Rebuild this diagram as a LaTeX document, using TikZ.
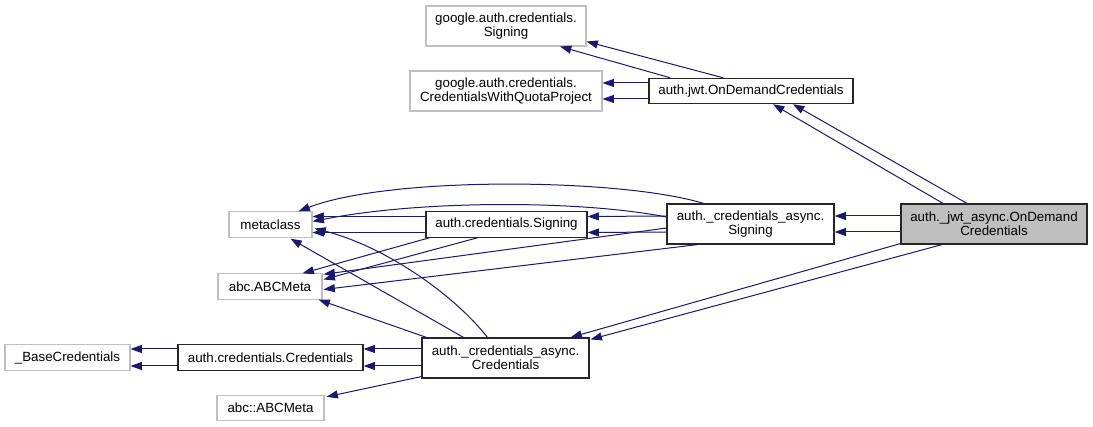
\documentclass[tikz,border=0pt]{standalone}
\usepackage{fontspec}
\setmainfont{Liberation Sans}
\usetikzlibrary{arrows.meta,calc}
\definecolor{edgeblue}{HTML}{191970}

\begin{document}
\begin{tikzpicture}[x=0.75pt,y=-0.75pt,>={Triangle[length=8.5pt,width=6pt]},
  every node/.style={font=\fontsize{10}{10.8}\selectfont,align=center,inner sep=0pt},
  cls/.style={draw=black!85,line width=0.9pt,minimum height=19pt},
  ext/.style={draw=black!25,line width=0.8pt,minimum height=19pt},
  cur/.style={cls,fill=black!25},
  inh/.style={->,draw=edgeblue,line width=0.75pt}]
\useasboundingbox (0,0) rectangle (1093,427);
\node[ext,minimum width=120pt,minimum height=30pt] (gsign) at (506,26) {google.auth.credentials.\\Signing};
\node[ext,minimum width=144pt,minimum height=30pt] (gquota) at (506,91) {google.auth.credentials.\\CredentialsWithQuotaProject};
\node[cls,minimum width=153pt] (jwtodc) at (751,91) {auth.jwt.OnDemandCredentials};
\node[ext,minimum width=62.25pt] (meta) at (270.5,224.5) {metaclass};
\node[cls,minimum width=120.75pt] (csign) at (506.5,224.5) {auth.credentials.Signing};
\node[cls,minimum width=125.25pt,minimum height=30pt] (asign) at (750.5,224) {auth.\_credentials\_async.\\Signing};
\node[cur,minimum width=139.5pt,minimum height=30pt] (ajwt) at (994,224) {auth.\_jwt\_async.OnDemand\\Credentials};
\node[ext,minimum width=78pt] (abcmeta) at (270,286.5) {abc.ABCMeta};
\node[ext,minimum width=93.75pt] (basecred) at (67.5,357.5) {\_BaseCredentials};
\node[cls,minimum width=138.75pt] (ccred) at (270.5,357.5) {auth.credentials.Credentials};
\node[cls,minimum width=125.25pt,minimum height=30pt] (acred) at (505.5,358) {auth.\_credentials\_async.\\Credentials};
\node[ext,minimum width=80.25pt] (abcabc) at (270.5,408) {abc::ABCMeta};
% auth._jwt_async.OnDemandCredentials
\draw[inh] ($(ajwt.west)+(0,-8)$) -- ($(asign.east)+(0,-8)$);
\draw[inh] ($(ajwt.west)+(0,8)$) -- ($(asign.east)+(0,8)$);
\draw[inh] ($(ajwt.north)+(-51,0)$) -- ($(jwtodc.south)+(22,0)$);
\draw[inh] ($(ajwt.north)+(-27,0)$) -- ($(jwtodc.south)+(42,0)$);
\draw[inh] ($(ajwt.south west)+(0,-1)$) -- ($(acred.north east)+(-19,0)$);
\draw[inh] ($(ajwt.south)+(-52,0)$) -- ($(acred.north east)+(1,2)$);
% auth.jwt.OnDemandCredentials
\draw[inh] ($(jwtodc.north)+(-81,0)$) -- ($(gsign.south)+(54,0)$);
\draw[inh] ($(jwtodc.north)+(-28,0)$) -- ($(gsign.south east)+(0,-5)$);
\draw[inh] ($(jwtodc.west)+(0,-8)$) -- ($(gquota.east)+(0,-8)$);
\draw[inh] ($(jwtodc.west)+(0,8)$) -- ($(gquota.east)+(0,8)$);
% auth._credentials_async.Signing
\draw[inh] ($(asign.west)+(0,-8)$) -- ($(csign.east)+(0,-8)$);
\draw[inh] ($(asign.west)+(0,8)$) -- ($(csign.east)+(0,8)$);
\draw[inh] ($(asign.north)+(-47,0)$) .. controls (620,178) and (390,176) .. ($(meta.north east)+(-14,0)$);
\draw[inh] ($(asign.west)+(0,-7)$) .. controls (580,200) and (420,200) .. ($(meta.east)+(0,-3)$);
\draw[inh] ($(asign.west)+(0,4)$) -- ($(abcmeta.north east)+(1,1)$);
\draw[inh] ($(asign.south)+(-53,0)$) -- ($(abcmeta.east)+(1,3)$);
% auth.credentials.Signing
\draw[inh] ($(csign.west)+(0,-8)$) -- ($(meta.east)+(0,-8)$);
\draw[inh] ($(csign.west)+(0,8)$) -- ($(meta.east)+(0,8)$);
\draw[inh] ($(csign.south west)+(4,0)$) -- ($(abcmeta.north east)+(-20,0)$);
\draw[inh] ($(csign.south)+(-29,0)$) -- ($(abcmeta.east)+(1,-7)$);
% auth._credentials_async.Credentials
\draw[inh] ($(acred.north)+(-42,0)$) -- ($(meta.south)+(20,1)$);
\draw[inh] ($(acred.north)+(-18,0)$) .. controls (450,290) and (380,245) .. ($(meta.east)+(2,4)$);
\draw[inh] ($(acred.north west)+(5,0)$) -- ($(abcmeta.south east)+(-4,0)$);
\draw[inh] ($(acred.south west)+(0,-2)$) -- ($(abcabc.north east)+(2,2)$);
\draw[inh] ($(acred.west)+(0,-9)$) -- ($(ccred.east)+(0,-8.5)$);
\draw[inh] ($(acred.west)+(0,8)$) -- ($(ccred.east)+(0,8.5)$);
% auth.credentials.Credentials
\draw[inh] ($(ccred.west)+(0,-8.5)$) -- ($(basecred.east)+(0,-8.5)$);
\draw[inh] ($(ccred.west)+(0,8.5)$) -- ($(basecred.east)+(0,8.5)$);
\end{tikzpicture}
\end{document}
